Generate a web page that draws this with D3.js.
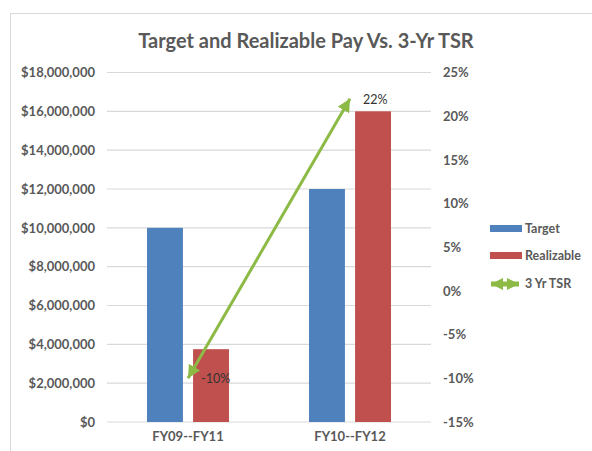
<!DOCTYPE html>
<html>
<head>
    <script src="https://cdnjs.cloudflare.com/ajax/libs/d3/7.8.5/d3.min.js"></script>
    <style>
        body { margin: 0; background: #fff; }
        svg text { font-family: Lato, "Open Sans", sans-serif; fill: #595959; }
    </style>
</head>
<body>
    <svg id="chart" width="592" height="451"></svg>
    <script>
        // data
        const categories = ["FY09--FY11", "FY10--FY12"];
        const seriesNames = ["Target", "Realizable"];
        const targetPay = [10000000, 12000000];
        const realizablePay = [3750000, 16000000];
        const tsr = [-10, 22];
        const leftTicks = [0, 2000000, 4000000, 6000000, 8000000, 10000000, 12000000, 14000000, 16000000, 18000000];
        const rightTicks = [-15, -10, -5, 0, 5, 10, 15, 20, 25];

        const colors = { Target: "#4F81BD", Realizable: "#C0504D", tsr: "#8CBA45" };

        const svg = d3.select("#chart");
        const plot = { left: 107, right: 431, top: 72.5, bottom: 422 };

        // outer frame
        svg.append("rect")
            .attr("x", 10.5).attr("y", 13.5)
            .attr("width", 600).attr("height", 500)
            .attr("fill", "none")
            .attr("stroke", "#d9d9d9");

        svg.append("text")
            .attr("x", 306).attr("y", 48)
            .attr("text-anchor", "middle")
            .style("font-size", "20px")
            .style("font-weight", "bold")
            .text("Target and Realizable Pay Vs. 3-Yr TSR");

        const x0 = d3.scaleBand().domain(categories).range([plot.left, plot.right]);
        const x1 = d3.scaleBand().domain(seriesNames).range([-41, 41]).paddingInner(0.22);
        const yL = d3.scaleLinear().domain([0, 18000000]).range([plot.bottom, plot.top]);
        const yR = d3.scaleLinear().domain([-15, 25]).range([plot.bottom, plot.top]);

        // gridlines
        svg.append("g").selectAll("line")
            .data(leftTicks)
            .join("line")
            .attr("x1", plot.left).attr("x2", plot.right)
            .attr("y1", d => yL(d)).attr("y2", d => yL(d))
            .attr("stroke", "#d9d9d9")
            .attr("stroke-width", 1.2);

        // axes
        const fmtMoney = d => "$" + d3.format(",")(d);
        const leftAxis = svg.append("g")
            .attr("transform", `translate(${plot.left},0)`)
            .call(d3.axisLeft(yL).tickValues(leftTicks).tickFormat(fmtMoney).tickSize(0).tickPadding(12));
        leftAxis.select(".domain").remove();

        const rightAxis = svg.append("g")
            .attr("transform", `translate(${plot.right},0)`)
            .call(d3.axisRight(yR).tickValues(rightTicks).tickFormat(d => d + "%").tickSize(0).tickPadding(12));
        rightAxis.select(".domain").remove();

        const bottomAxis = svg.append("g")
            .attr("transform", `translate(0,${plot.bottom})`)
            .call(d3.axisBottom(x0).tickSize(0).tickPadding(10));
        bottomAxis.select(".domain").remove();

        svg.selectAll(".tick text")
            .attr("fill", "#595959")
            .style("font-size", "13px")
            .style("font-weight", "bold")
            .style("font-family", "Lato, sans-serif");

        // bars
        const barData = [];
        categories.forEach((c, i) => {
            barData.push({ cat: c, series: "Target", value: targetPay[i] });
            barData.push({ cat: c, series: "Realizable", value: realizablePay[i] });
        });

        svg.append("g").selectAll("rect")
            .data(barData)
            .join("rect")
            .attr("x", d => x0(d.cat) + x0.bandwidth() / 2 + x1(d.series))
            .attr("y", d => yL(d.value))
            .attr("width", x1.bandwidth())
            .attr("height", d => yL(0) - yL(d.value))
            .attr("fill", d => colors[d.series]);

        // arrow markers
        const defs = svg.append("defs");
        function addMarker(id, size, flip) {
            defs.append("marker")
                .attr("id", id)
                .attr("markerUnits", "userSpaceOnUse")
                .attr("viewBox", "0 0 12 12")
                .attr("refX", flip ? 0 : 12).attr("refY", 6)
                .attr("markerWidth", size).attr("markerHeight", size)
                .attr("orient", "auto")
                .append("path")
                .attr("d", flip ? "M12,0 L0,6 L12,12 Z" : "M0,0 L12,6 L0,12 Z")
                .attr("fill", colors.tsr);
        }
        addMarker("arrowEnd", 13, false);
        addMarker("arrowStart", 13, true);
        addMarker("legEnd", 12, false);
        addMarker("legStart", 12, true);

        const tsrPoints = categories.map((c, i) => ({ cat: c, value: tsr[i] }));
        const line = d3.line()
            .x(d => x0(d.cat) + x0.bandwidth() / 2)
            .y(d => yR(d.value));

        svg.append("path")
            .datum(tsrPoints)
            .attr("d", line)
            .attr("fill", "none")
            .attr("stroke", colors.tsr)
            .attr("stroke-width", 3)
            .attr("marker-start", "url(#arrowStart)")
            .attr("marker-end", "url(#arrowEnd)");

        svg.append("g").selectAll("text")
            .data(tsrPoints)
            .join("text")
            .attr("x", d => x0(d.cat) + x0.bandwidth() / 2 + 13)
            .attr("y", d => yR(d.value) + 5)
            .style("font-size", "12.5px")
            .style("fill", "#333")
            .text(d => d.value + "%");

        // legend
        const legend = svg.append("g").attr("transform", "translate(490,0)");
        const legendY = [229, 256, 284];
        seriesNames.forEach((s, i) => {
            legend.append("rect")
                .attr("x", 0).attr("y", legendY[i] - 4)
                .attr("width", 32).attr("height", 7)
                .attr("fill", colors[s]);
            legend.append("text")
                .attr("x", 35).attr("y", legendY[i] + 4)
                .style("font-size", "12.5px")
                .style("font-weight", "bold")
                .text(s);
        });
        legend.append("path")
            .attr("d", `M1,${legendY[2]} L29,${legendY[2]}`)
            .attr("stroke", colors.tsr)
            .attr("stroke-width", 5)
            .attr("marker-start", "url(#legStart)")
            .attr("marker-end", "url(#legEnd)");
        legend.append("text")
            .attr("x", 35).attr("y", legendY[2] + 4)
            .style("font-size", "12.5px")
            .style("font-weight", "bold")
            .text("3 Yr TSR");
    </script>
</body>
</html>
